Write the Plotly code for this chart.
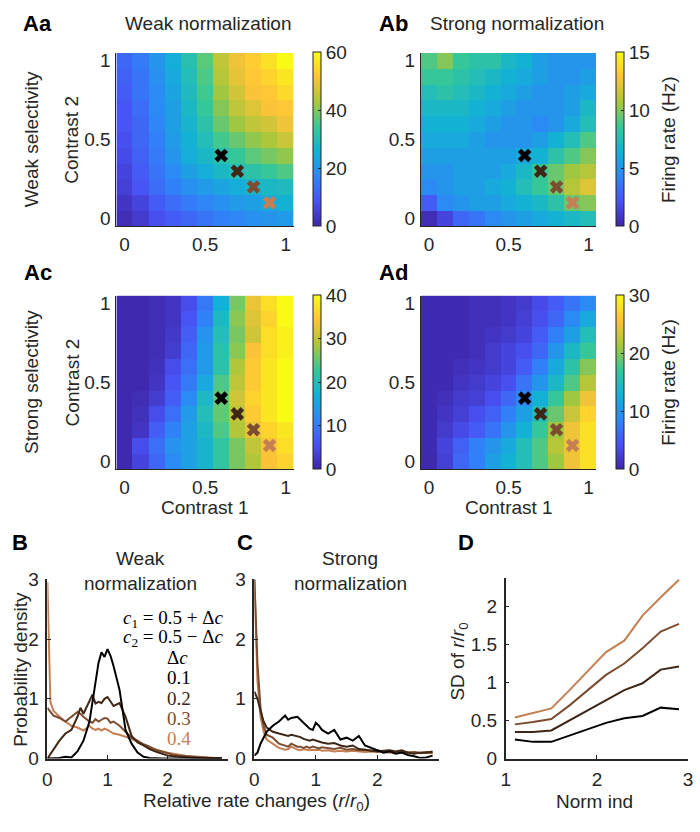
import plotly.graph_objects as go

W, H = 700, 832
FONT = "Liberation Sans"
AX = "#262626"

# ---------------- data ----------------
contrast = [0.0, 0.1, 0.2, 0.3, 0.4, 0.5, 0.6, 0.7, 0.8, 0.9, 1.0]

# rows listed from contrast2 = 0 (bottom) to contrast2 = 1 (top)
rate_weak_norm_weak_sel = [
    [1.5, 4, 8, 10, 12, 14, 16, 17, 19, 20, 21],
    [3, 6, 10, 13, 15, 17, 19, 21, 22, 24, 26],
    [5, 9, 13, 16, 19, 21, 23, 25, 27, 28, 29],
    [6, 10, 14, 18, 22, 25, 28, 30, 32, 34, 36],
    [7, 11, 15, 20, 25, 28, 31, 34, 37, 39, 41],
    [8, 12, 16, 21, 26, 30, 35, 38, 41, 43, 46],
    [9, 12, 17, 22, 27, 32, 38, 42, 45, 47, 50],
    [9, 13, 18, 22, 28, 34, 40, 45, 48, 51, 52],
    [10, 14, 18, 23, 29, 35, 42, 47, 51, 52, 55],
    [11, 14, 19, 24, 30, 36, 44, 49, 52, 54, 57],
    [12, 15, 20, 25, 31, 37, 45, 50, 53, 56, 60],
]
rate_strong_norm_weak_sel = [
    [0.4, 1.5, 3, 3.5, 4.5, 5, 5.5, 6, 6.5, 7, 7.5],
    [2.5, 4.5, 5, 5.5, 5.5, 6, 6.5, 7, 8, 9.5, 10],
    [4.5, 5, 5.5, 5.5, 6, 6.5, 7.5, 8.5, 9.5, 11, 12],
    [5, 5, 5.5, 5.5, 5.5, 6, 7, 8.5, 9.5, 10.5, 11],
    [5.5, 5.5, 5.5, 5.5, 5.5, 5.5, 6, 6.5, 8, 9, 10],
    [6, 6, 6, 5.5, 5, 5, 5, 5.5, 6.5, 7.5, 9],
    [6.5, 6.5, 6.5, 6, 5.5, 5, 5, 4.5, 5, 6, 7.5],
    [7, 7, 7, 6.5, 6, 5.5, 5, 5, 5, 5.5, 7],
    [7.5, 8, 7.5, 7, 6.5, 6, 5.5, 5, 5, 5.5, 6],
    [8.5, 8.5, 8, 7.5, 7, 6.5, 6, 5.5, 5, 5, 5.5],
    [9, 10, 8.5, 8, 8, 7, 6.5, 5.5, 5, 5, 5],
]
rate_weak_norm_strong_sel = [
    [0.5, 4, 8, 12, 15, 18, 22, 26, 29, 34, 36],
    [0.5, 5, 9, 13, 15, 18, 22, 26, 30, 34, 37],
    [0.5, 2, 7, 11, 15, 19, 24, 29, 33, 36, 38],
    [0.5, 1.5, 5, 9, 14, 20, 25, 30, 35, 38, 40],
    [0.5, 1, 3, 7, 12, 19, 25, 31, 36, 38, 40],
    [0.5, 0.5, 2, 6, 10, 16, 24, 30, 35, 38, 40],
    [0.5, 0.5, 1.5, 5, 9, 14, 21, 29, 35, 38, 40],
    [0.5, 0.5, 1, 3, 8, 14, 21, 27, 34, 37, 39],
    [0.5, 0.5, 1, 2.5, 7, 13, 20, 26, 31, 37, 39],
    [0.5, 0.5, 1, 2, 6, 11, 19, 27, 32, 36, 40],
    [0.5, 0.5, 1, 2, 5, 10, 17, 26, 33, 37, 40],
]
rate_strong_norm_strong_sel = [
    [0.3, 2.5, 6, 8, 11, 13, 15, 18, 21, 25, 28],
    [0.5, 3, 5.5, 8, 10, 12, 15, 18, 22, 25, 28],
    [0.5, 2, 3.5, 5, 7, 10, 13, 17, 21, 25, 28],
    [0.5, 1.5, 2.5, 4, 5.5, 8, 11, 15, 19, 23, 27],
    [0.5, 1, 2, 2.5, 4, 6, 9, 13, 17, 21, 25],
    [0.5, 0.5, 1.5, 2, 3, 4, 7, 10, 14, 18, 22],
    [0.5, 0.5, 1, 1.5, 2, 3, 5, 8, 12, 16, 20],
    [0.5, 0.5, 0.5, 1, 2, 3, 4, 6, 10, 14, 17],
    [0.5, 0.5, 0.5, 1, 1.5, 2, 3, 5, 8, 11, 15],
    [0.5, 0.5, 0.5, 1, 1, 1.5, 2.5, 4, 6, 9, 12],
    [0.5, 0.5, 0.5, 1, 1, 1.5, 2, 3.5, 5, 7, 9],
]

cross_c1 = [0.6, 0.7, 0.8, 0.9]
cross_c2 = [0.4, 0.3, 0.2, 0.1]
delta_c_labels = ["0.1", "0.2", "0.3", "0.4"]
series_colors = ["#000000", "#3f2615", "#7d4d31", "#c47f52"]

rel_rate = [0, 0.05, 0.1, 0.15, 0.2, 0.3, 0.4, 0.5, 0.55, 0.6, 0.7, 0.75, 0.8, 0.85,
            0.9, 0.95, 1.0, 1.05, 1.1, 1.2, 1.3, 1.4, 1.5, 1.6, 1.7, 1.8, 1.9, 2.0,
            2.1, 2.2, 2.3, 2.4, 2.5, 2.6, 2.7, 2.8, 2.9]

pdf_weak = [
    [0, 0, 0, 0, 0.01, 0.03, 0.02, 0.12, 0.2, 0.3, 0.62, 0.95, 1.3, 1.6, 1.78, 1.7, 1.83,
     1.72, 1.55, 1.15, 0.48, 0.25, 0.1, 0.03, 0.01, 0, 0, 0, 0, 0, 0, 0, 0, 0, 0, 0, 0],
    [0, 0.08, 0.15, 0.22, 0.3, 0.42, 0.48, 0.7, 0.85, 0.75, 0.95, 1.07, 0.92, 0.95, 0.93,
     1.0, 1.03, 0.95, 0.88, 0.93, 0.7, 0.38, 0.27, 0.22, 0.16, 0.12, 0.08, 0.05, 0.04, 0.03,
     0.02, 0.01, 0.01, 0, 0, 0, 0],
    [0.85, 0.78, 0.72, 0.7, 0.68, 0.62, 0.7, 0.78, 0.75, 0.7, 0.62, 0.6, 0.66, 0.62, 0.65,
     0.68, 0.67, 0.6, 0.62, 0.55, 0.45, 0.35, 0.3, 0.24, 0.2, 0.15, 0.12, 0.09, 0.06, 0.05,
     0.04, 0.03, 0.02, 0.02, 0.01, 0.01, 0.01],
    [2.95, 0.95, 0.8, 0.75, 0.7, 0.62, 0.55, 0.52, 0.5, 0.47, 0.55, 0.5, 0.48, 0.5, 0.47,
     0.5, 0.48, 0.45, 0.42, 0.4, 0.37, 0.33, 0.28, 0.22, 0.18, 0.15, 0.12, 0.1, 0.08, 0.06,
     0.05, 0.04, 0.03, 0.02, 0.02, 0.01, 0.01],
]
pdf_strong = [
    [0.05, 0.1, 0.25, 0.35, 0.45, 0.55, 0.62, 0.72, 0.65, 0.68, 0.7, 0.65, 0.6, 0.55, 0.5,
     0.48, 0.6, 0.55, 0.48, 0.42, 0.48, 0.32, 0.35, 0.3, 0.38, 0.22, 0.18, 0.15, 0.1, 0.12,
     0.08, 0.1, 0.06, 0.04, 0.01, 0.02, 0.05],
    [1.12, 1.0, 0.8, 0.62, 0.52, 0.45, 0.42, 0.4, 0.38, 0.4, 0.38, 0.36, 0.33, 0.32, 0.3,
     0.32, 0.3, 0.28, 0.27, 0.25, 0.26, 0.22, 0.2, 0.22, 0.16, 0.15, 0.13, 0.12, 0.13, 0.14,
     0.12, 0.14, 0.1, 0.08, 0.1, 0.1, 0.12],
    [3.0, 1.6, 0.85, 0.55, 0.4, 0.35, 0.25, 0.22, 0.2, 0.25, 0.2, 0.2, 0.18, 0.2, 0.18,
     0.2, 0.18, 0.17, 0.19, 0.17, 0.16, 0.18, 0.15, 0.16, 0.14, 0.15, 0.13, 0.14, 0.12,
     0.13, 0.11, 0.12, 0.1, 0.11, 0.1, 0.11, 0.1],
    [3.0, 1.3, 0.7, 0.45, 0.32, 0.25, 0.18, 0.15, 0.16, 0.2, 0.15, 0.14, 0.16, 0.15, 0.14,
     0.15, 0.14, 0.15, 0.13, 0.14, 0.12, 0.13, 0.12, 0.13, 0.12, 0.11, 0.12, 0.11, 0.12,
     0.1, 0.11, 0.1, 0.11, 0.1, 0.09, 0.1, 0.09],
]

norm_ind = [1.1, 1.3, 1.5, 1.7, 1.9, 2.1, 2.3, 2.5, 2.7, 2.9]
sd_rel = [
    [0.25, 0.22, 0.22, 0.3, 0.38, 0.47, 0.53, 0.56, 0.67, 0.65],
    [0.35, 0.35, 0.37, 0.5, 0.63, 0.77, 0.9, 0.99, 1.17, 1.21],
    [0.45, 0.48, 0.52, 0.7, 0.9, 1.1, 1.25, 1.45, 1.67, 1.77],
    [0.54, 0.6, 0.66, 0.9, 1.15, 1.4, 1.55, 1.88, 2.12, 2.35],
]

# MATLAB parula (8 samples)
parula = [
    [0 / 7, "#3e26a8"], [1 / 7, "#4852f4"], [2 / 7, "#2e87f7"], [3 / 7, "#12b1d6"],
    [4 / 7, "#37c897"], [5 / 7, "#abc739"], [6 / 7, "#fec338"], [7 / 7, "#f9fb15"],
]

# ---------------- helpers for layout in pixels ----------------
def px(x):
    return x / W

def py(y):
    return 1 - y / H

fig = go.Figure()
layout = {}

heat_specs = [
    (rate_weak_norm_weak_sel, (113, 293), (44, 222), 60, 312, [0, 20, 40, 60]),
    (rate_strong_norm_weak_sel, (422, 600), (44, 222), 15, 620, [0, 5, 10, 15]),
    (rate_weak_norm_strong_sel, (113, 293), (293, 471), 40, 312, [0, 10, 20, 30, 40]),
    (rate_strong_norm_strong_sel, (422, 600), (293, 471), 30, 620, [0, 10, 20, 30]),
]

for i, (z, (x0, x1), (y0, y1), zmax, cbx, cbt) in enumerate(heat_specs, start=1):
    sfx = "" if i == 1 else str(i)
    cb = dict(
        x=px(cbx), xanchor="left", y=py(y1), yanchor="bottom",
        len=(y1 - y0) / H, lenmode="fraction", thickness=8, thicknessmode="pixels",
        outlinecolor=AX, outlinewidth=1, ticks="inside", ticklen=3, tickcolor=AX,
        tickvals=cbt, tickfont=dict(size=19, color=AX, family=FONT), xpad=0, ypad=0,
    )
    fig.add_trace(go.Heatmap(
        x=contrast, y=contrast, z=z, zmin=0, zmax=zmax, colorscale=parula,
        colorbar=cb, xaxis="x" + sfx, yaxis="y" + sfx, hoverinfo="skip",
    ))
    for k in range(4):
        fig.add_trace(go.Scatter(
            x=[cross_c1[k]], y=[cross_c2[k]], mode="markers",
            marker=dict(symbol="x", size=12, color=series_colors[k], line=dict(width=0)),
            xaxis="x" + sfx, yaxis="y" + sfx, showlegend=False, hoverinfo="skip",
        ))
    layout["xaxis" + sfx] = dict(
        domain=[px(x0), px(x1)], anchor="y" + sfx, range=[-0.05, 1.05],
        showline=True, linecolor=AX, linewidth=1, showgrid=False, zeroline=False,
        ticks="", tickvals=[0, 0.5, 1], ticktext=["0", "0.5", "1"],
        tickfont=dict(size=19, color=AX, family=FONT), ticklabelstandoff=1,
    )
    layout["yaxis" + sfx] = dict(
        domain=[py(y1), py(y0)], anchor="x" + sfx, range=[-0.05, 1.05],
        showline=True, linecolor=AX, linewidth=1, showgrid=False, zeroline=False,
        ticks="", tickvals=[0, 0.5, 1], ticktext=["0", "0.5", "1"],
        tickfont=dict(size=19, color=AX, family=FONT), ticklabelstandoff=1,
    )

# ---------------- line panels ----------------
line_specs = [
    (5, (43, 226), (584, 768), [0, 3], [0, 3], [0, 1, 2], [0, 1, 2, 3], rel_rate, pdf_weak),
    (6, (253, 440), (584, 768), [0, 3], [0, 3], [0, 1, 2], [0, 1, 2, 3], rel_rate, pdf_strong),
    (7, (508, 693), (583, 768), [1, 3], [0, 2.37], [1, 2, 3], [0, 0.5, 1, 1.5, 2], norm_ind, sd_rel),
]
for n, (x0, x1), (y0, y1), xr, yr, xt, yt, xs, ys in line_specs:
    sfx = str(n)
    for k in [3, 2, 1, 0]:
        fig.add_trace(go.Scatter(
            x=xs, y=ys[k], mode="lines", line=dict(color=series_colors[k], width=2),
            xaxis="x" + sfx, yaxis="y" + sfx, showlegend=False, hoverinfo="skip",
        ))
    layout["xaxis" + sfx] = dict(
        domain=[px(x0), px(x1)], anchor="y" + sfx, range=xr,
        showline=True, linecolor=AX, linewidth=1.5, showgrid=False, zeroline=False,
        ticks="inside", ticklen=4, tickcolor=AX, tickvals=xt,
        tickfont=dict(size=19, color=AX, family=FONT), ticklabelstandoff=3,
    )
    layout["yaxis" + sfx] = dict(
        domain=[py(y1), py(y0)], anchor="x" + sfx, range=yr,
        showline=True, linecolor=AX, linewidth=1.5, showgrid=False, zeroline=False,
        ticks="inside", ticklen=4, tickcolor=AX, tickvals=yt,
        tickfont=dict(size=19, color=AX, family=FONT), ticklabelstandoff=3,
    )

# ---------------- annotations ----------------
ann = []

def text(x, y, s, size=19, bold=False, angle=0, xanchor="center", family=FONT, color=AX):
    if bold:
        s = "<b>" + s + "</b>"
    ann.append(dict(x=px(x), y=py(y), xref="paper", yref="paper", text=s, showarrow=False,
                    textangle=angle, xanchor=xanchor, yanchor="middle",
                    font=dict(size=size, family=family, color=color)))

text(33, 14, "Aa", size=22, bold=True, color="#000")
text(206, 14, "Weak normalization")
text(394, 14, "Ab", size=22, bold=True, color="#000")
text(519, 14, "Strong normalization")
text(33, 269, "Ac", size=22, bold=True, color="#000")
text(394, 269, "Ad", size=22, bold=True, color="#000")
text(27, 133, "Weak selectivity", angle=-90)
text(27, 382, "Strong selectivity", angle=-90)
text(68, 133, "Contrast 2", angle=-90)
text(68, 382, "Contrast 2", angle=-90)
text(203, 510, "Contrast 1")
text(511, 510, "Contrast 1")
text(673, 133, "Firing rate (Hz)", angle=-90)
text(673, 382, "Firing rate (Hz)", angle=-90)

text(15, 546, "B", size=22, bold=True, color="#000")
text(137, 563, "Weak")
text(137, 588, "normalization")
text(243, 546, "C", size=22, bold=True, color="#000")
text(350, 563, "Strong")
text(350, 588, "normalization")
text(468, 546, "D", size=22, bold=True, color="#000")

SERIF = "Liberation Serif"
text(224, 625, "<i>c</i><sub>1</sub> = 0.5 + Δ<i>c</i>", size=19, xanchor="right", family=SERIF, color="#000")
text(224, 644, "<i>c</i><sub>2</sub> = 0.5 − Δ<i>c</i>", size=19, xanchor="right", family=SERIF, color="#000")
text(162, 664, "Δ<i>c</i>", size=19, xanchor="left", family=SERIF, color="#000")
for k, (lab, yy) in enumerate(zip(delta_c_labels, [685, 706, 727, 747])):
    text(162, yy, lab, size=19, xanchor="left", family=SERIF, color=series_colors[k])

text(16, 676, "Probability density", angle=-90)
text(255, 812, "Relative rate changes (<i>r</i>/<i>r</i><sub>0</sub>)")
text(461, 668, "SD of <i>r</i>/<i>r</i><sub>0</sub>", angle=-90)
text(598, 812, "Norm ind")

fig.update_layout(
    width=W, height=H, margin=dict(l=0, r=0, t=0, b=0),
    paper_bgcolor="white", plot_bgcolor="white", showlegend=False,
    font=dict(family=FONT, size=19, color=AX),
    annotations=ann, **layout,
)

fig.write_html("out.html")
